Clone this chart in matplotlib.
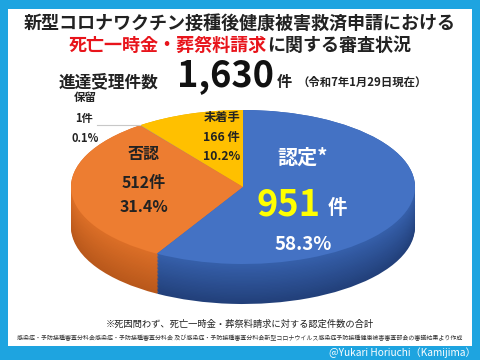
import numpy as np
import matplotlib
matplotlib.use('Agg')
import matplotlib.pyplot as plt
from matplotlib.patches import Rectangle
from matplotlib.colors import to_rgb

plt.rcParams['font.family'] = ['Noto Sans CJK JP', 'DejaVu Sans']

# data
categories = ['未着手', '保留', '否認', '認定*']
counts = [166, 1, 512, 951]
shares = [10.2, 0.1, 31.4, 58.3]
total = 1630
top_colors = ['#ffc000', '#a5a5a5', '#ed7d31', '#4472c4']
side_colors = ['#b88a00', '#707070', '#b9581b', '#22407a']
side_light = ['#e0a800', '#909090', '#dc6f27', '#3660ab']

W, H = 480, 360
fig = plt.figure(figsize=(4.8, 3.6), dpi=100)
fig.patch.set_facecolor('#1ea4e0')

# white panel
fig.patches.append(Rectangle((8 / W, 1 - 346 / H), 464 / W, 337 / H,
                             transform=fig.transFigure, facecolor='white',
                             edgecolor='none', zorder=-5))


def px(x, y):
  return x / W, 1 - y / H


# pie: top face centre (243,187), rx 172, ry 77, depth 40
depth = 40 / 77
ax = fig.add_axes([71 / W, (H - 304) / H, 344 / W, 194 / H])
nlay = 30
for k in range(nlay):
  t = k / (nlay - 1)
  cols = [tuple(np.array(to_rgb(d)) * (1 - t) + np.array(to_rgb(l)) * t)
          for d, l in zip(side_colors, side_light)]
  ax.pie(counts, colors=cols, startangle=90, counterclock=True,
         center=(0, -depth * (1 - t)), wedgeprops=dict(linewidth=0))
wedges, _ = ax.pie(counts, colors=top_colors, startangle=90, counterclock=True,
                   wedgeprops=dict(linewidth=0))
ax.set_aspect('auto')
ax.set_xlim(-1, 1)
ax.set_ylim(-1 - depth, 1)
ax.axis('off')

# leader line for the tiny slice
th = np.deg2rad(wedges[1].theta1)
ax.plot([np.cos(th), -0.85], [np.sin(th), np.sin(th)], color='#c8c8c8', lw=0.8,
        clip_on=False)

# title
fig.text(*px(240, 23), '新型コロナワクチン接種後健康被害救済申請における',
         ha='center', va='center', fontsize=13, fontweight='bold', color='#222222')
fig.text(*px(267, 45), '死亡一時金・葬祭料請求', ha='right', va='center',
         fontsize=13, fontweight='bold', color='#e8141b')
fig.text(*px(267, 45), 'に関する審査状況', ha='left', va='center',
         fontsize=13, fontweight='bold', color='#222222')

fig.text(*px(108, 82), '進達受理件数', ha='center', va='center',
         fontsize=12, fontweight='bold', color='#222222')
fig.text(*px(226, 76), f'{total:,}', ha='center', va='center',
         fontsize=26, fontweight='bold', color='#111111')
fig.text(*px(284, 82), '件', ha='center', va='center',
         fontsize=11, fontweight='bold', color='#222222')
fig.text(*px(362, 82), '（令和7年1月29日現在）', ha='center', va='center',
         fontsize=8.2, fontweight='bold', color='#222222')

# slice labels
fig.text(*px(85, 98), categories[1], ha='center', va='center', fontsize=8.3,
         fontweight='bold', color='#222222')
fig.text(*px(84, 119), f'{counts[1]}件', ha='center', va='center', fontsize=8,
         fontweight='bold', color='#222222')
fig.text(*px(85, 138), f'{shares[1]}%', ha='center', va='center', fontsize=8,
         fontweight='bold', color='#222222')

fig.text(*px(222, 117), categories[0], ha='center', va='center', fontsize=8.8,
         fontweight='bold', color='#222222')
fig.text(*px(221, 137), f'{counts[0]} 件', ha='center', va='center', fontsize=8.8,
         fontweight='bold', color='#222222')
fig.text(*px(222, 156), f'{shares[0]}%', ha='center', va='center', fontsize=8.8,
         fontweight='bold', color='#222222')

fig.text(*px(144, 154), categories[2], ha='center', va='center', fontsize=11.5,
         fontweight='bold', color='#222222')
fig.text(*px(144, 183), f'{counts[2]}件', ha='center', va='center', fontsize=11.5,
         fontweight='bold', color='#222222')
fig.text(*px(144, 207), f'{shares[2]}%', ha='center', va='center', fontsize=11.5,
         fontweight='bold', color='#222222')

fig.text(*px(303, 157), categories[3], ha='center', va='center', fontsize=14.5,
         fontweight='bold', color='white')
fig.text(*px(289, 205), f'{counts[3]}', ha='center', va='center', fontsize=26,
         fontweight='bold', color='#ffff00')
fig.text(*px(337, 208), '件', ha='center', va='center', fontsize=14,
         fontweight='bold', color='white')
fig.text(*px(303, 244), f'{shares[3]}%', ha='center', va='center', fontsize=13.5,
         fontweight='bold', color='white')

# notes
fig.text(*px(240, 324), '※死因問わず、死亡一時金・葬祭料請求に対する認定件数の合計',
         ha='center', va='center', fontsize=6.7, color='#222222')
fig.text(*px(240, 338),
         '感染症・予防接種審査分科会感染症・予防接種審査分科会 及び感染症・予防接種審査分科会'
         '新型コロナウイルス感染症予防接種健康被害審査部会の審議結果より作成',
         ha='center', va='center', fontsize=4.3, color='#333333')
fig.text(*px(476, 353), '@Yukari Horiuchi（Kamijima）', ha='right', va='center',
         fontsize=7.3, color='white')

fig.savefig('out.png', dpi=100, facecolor=fig.get_facecolor())
